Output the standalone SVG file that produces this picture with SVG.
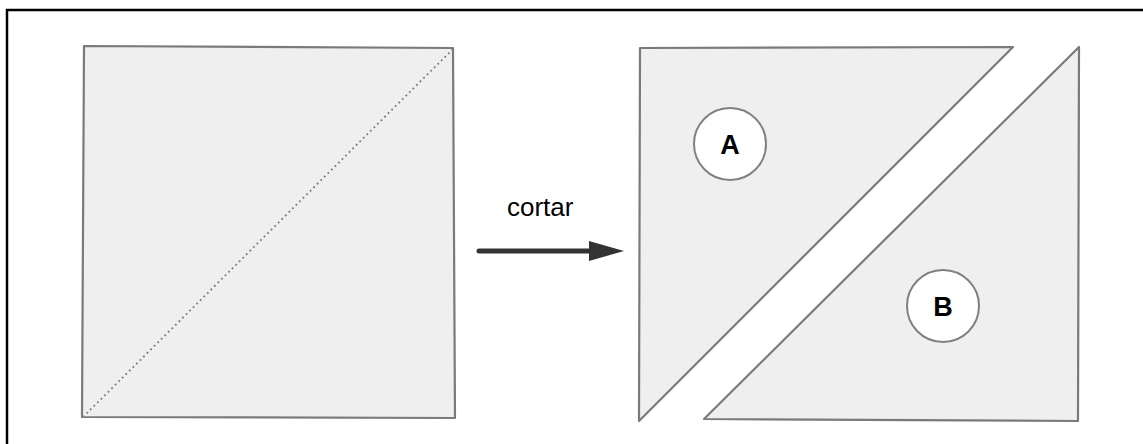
<svg xmlns="http://www.w3.org/2000/svg" width="1143" height="444" viewBox="0 0 1143 444">
<style>
.shape{fill:#efefef;stroke:#7a7a7a;stroke-width:2.2;stroke-linejoin:round}
.badge{fill:#ffffff;stroke:#808080;stroke-width:2}
.lbl{font-family:"Liberation Sans",Arial,sans-serif;font-weight:bold;font-size:27px;fill:#000;text-anchor:middle}
.cap{font-family:"Liberation Sans",Arial,sans-serif;font-size:26px;fill:#000}
</style>
<rect x="7" y="10" width="1150" height="450" fill="#fff" stroke="#000" stroke-width="2.5"/>
<g id="square">
<polygon class="shape" points="84,46 453,48 455,418 82,417"/>
<line x1="453" y1="49" x2="84" y2="416" stroke="#7a7a7a" stroke-width="1.8" stroke-dasharray="1.8,3.2"/>
</g>
<g id="triangleA">
<polygon class="shape" points="640,48 1013,47 639,421"/>
</g>
<g id="triangleB">
<polygon class="shape" points="1079,47 1078,421 704,419"/>
</g>
<g id="circleA">
<circle class="badge" cx="730" cy="144" r="36"/>
<text class="lbl" x="730" y="154">A</text>
</g>
<g id="circleB">
<circle class="badge" cx="943" cy="306" r="36"/>
<text class="lbl" x="943" y="316">B</text>
</g>
<g id="connectors">
<line x1="479" y1="251" x2="592" y2="251" stroke="#333" stroke-width="5" stroke-linecap="round"/>
<polygon points="589,241 624,251 589,261" fill="#333"/>
<text class="cap" x="507" y="216">cortar</text>
</g>
</svg>
